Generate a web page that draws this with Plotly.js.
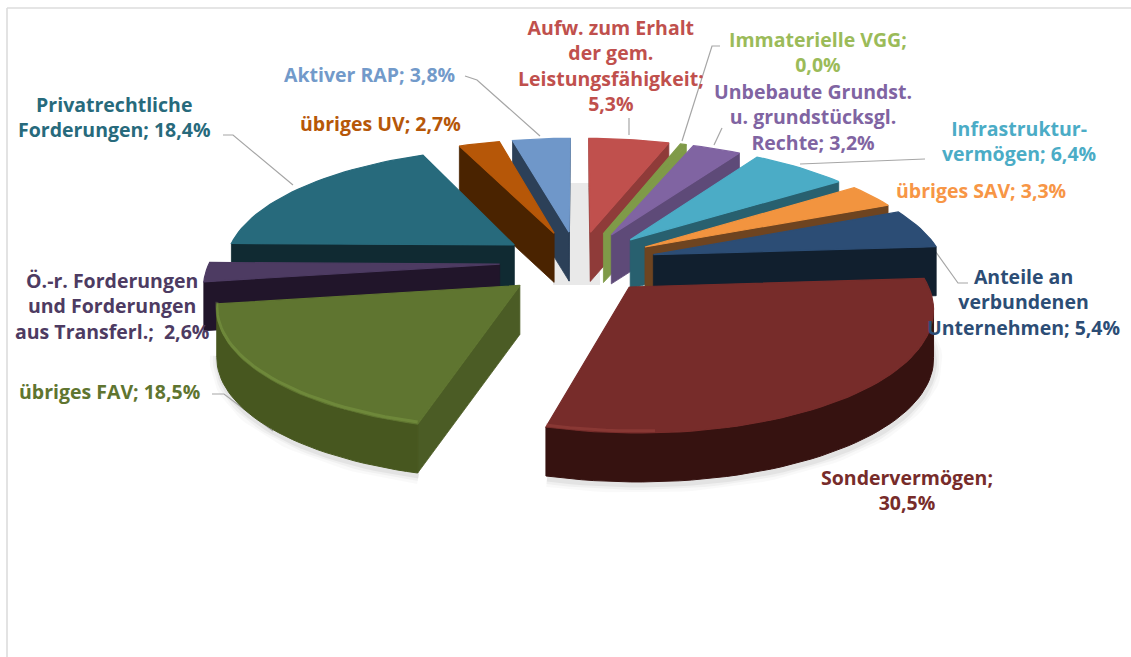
<!DOCTYPE html>
<html lang="de">
<head>
<meta charset="utf-8">
<title>Bilanz – Aktiva</title>
<script src="https://cdn.plot.ly/plotly-3.0.1.min.js"></script>
<style>html,body{margin:0;padding:0;background:#fff}#chart{width:1131px;height:657px}</style>
</head>
<body>
<div id="chart"></div>
<script>
// ---------- data (clockwise from 12 o'clock) ----------
const categories = [
  "Aufw. zum Erhalt<br>der gem.<br>Leistungsfähigkeit",
  "Immaterielle VGG",
  "Unbebaute Grundst.<br>u. grundstücksgl.<br>Rechte",
  "Infrastruktur-<br>vermögen",
  "übriges SAV",
  "Anteile an<br>verbundenen<br>Unternehmen",
  "Sondervermögen",
  "übriges FAV",
  "Ö.-r. Forderungen<br>und Forderungen<br>aus Transferl.",
  "Privatrechtliche<br>Forderungen",
  "übriges UV",
  "Aktiver RAP"
];
const values = [5.3, 0.0, 3.2, 6.4, 3.3, 5.4, 30.5, 18.5, 2.6, 18.4, 2.7, 3.8];
const separators = [";<br>", ";<br>", "; ", "; ", "; ", "; ", ";<br>", "; ", ";&nbsp; ", "; ", "; ", "; "];

// ---------- styles ----------
const topColors  = ["#C0504D","#7F9A48","#8064A2","#4BACC6","#F2943F","#2C4D75","#772C2A","#5F7530","#4D3B62","#276A7C","#B65708","#6F97C9"];
const textColors = ["#C0504D","#9BBB59","#8064A2","#4BACC6","#F79646","#2C4D75","#772C2A","#5F7530","#4D3B62","#276A7C","#B65708","#729ACA"];
const sideColors = ["#8F3B39","#7F9A48","#5E4A78","#28606F","#6E4420","#111F2E","#3A1413","#4B5C25","#21152A","#102A32","#4A2300","#2C4058"];
const arcColors  = ["#8F3B39","#7F9A48","#5E4A78","#28606F","#6E4420","#111F2E","#361210","#47571F","#21152A","#102A32","#4A2300","#2C4058"];
const labelPos = [[611,65],[818,52],[813,117],[1019,141],[981,190],[1023,302],[907,490],[109,391],[112,306],[114,117],[380,123],[369,74]];
const leaders = [
  [[465,76],[477,80],[540,136]],
  [[223,135],[233,135],[293,185]],
  [[629,118],[629,135]],
  [[720,46],[712,46],[682,141]],
  [[722,128],[714,145]],
  [[800,164],[925,159]],
  [[918,227],[958,283],[968,283]],
  [[212,394],[224,394],[273,431]]
];
// draw order, far to near
const drawOrder = [11,10,0,1,2,3,4,9,5,8,7,6];
// fine placement of single slices, in pixels
const nudge = {7:[2,2]};

// ---------- projection of the exploded, tilted pie ----------
const cx=578, cy=262, scaleX=290, scaleY=116, persp=0.149, explode=0.27, thickness=49, minSliver=0.4;
function project(X,Y,d){ const w=1+persp*Y; return [cx+scaleX*X/w+d[0], cy-scaleY*Y/w+d[1]]; }

const drawn = values.map(v=>Math.max(v,minSliver));
const total = drawn.reduce((a,b)=>a+b,0);
let acc=0;
const slices = drawn.map((v,idx)=>{
  const a0=acc/total*2*Math.PI; acc+=v; const a1=acc/total*2*Math.PI;
  const mid=(a0+a1)/2, ox=explode*Math.sin(mid), oy=explode*Math.cos(mid), d=nudge[idx]||[0,0];
  const n=Math.max(3,Math.ceil((a1-a0)/0.035));
  const arc=[];
  for(let i=0;i<=n;i++){const t=a0+(a1-a0)*i/n; arc.push(project(ox+Math.sin(t),oy+Math.cos(t),d));}
  return {apex:project(ox,oy,d),arc};
});

const traces=[];
function poly(pts,fill,line,lw){
  const x=[],y=[]; pts.forEach(p=>{ if(p){x.push(p[0]);y.push(p[1]);} else {x.push(null);y.push(null);} });
  traces.push({type:"scatter",mode:"lines",x,y,fill:"toself",fillcolor:fill,
    line:{color:line||fill,width:lw===undefined?0.8:lw},hoverinfo:"skip",showlegend:false});
}
const down=p=>[p[0],p[1]+thickness];
function quads(edges){ const out=[]; edges.forEach(([p,q])=>{ out.push(p,q,down(q),down(p),p,null); }); return out; }
function line(pts,color,w){
  traces.push({type:"scatter",mode:"lines",x:pts.map(p=>p[0]),y:pts.map(p=>p[1]),
    line:{color,width:w,shape:"linear"},hoverinfo:"skip",showlegend:false});
}

// soft ground shadow beneath the two large front slices
[6,7].forEach(i=>{
  const base=slices[i].arc.map(p=>[p[0]+1,p[1]+thickness+3]);
  [[16,"rgba(0,0,0,0.025)"],[10,"rgba(0,0,0,0.035)"],[5,"rgba(0,0,0,0.05)"]].forEach(s=>line(base,s[1],s[0]));
});

leaders.forEach(l=>line(l,"#a6a6a6",1.2));

drawOrder.forEach(i=>{
  const s=slices[i], a=s.arc, last=a[a.length-1];
  const radial=[], outerRun=[];
  if(a[0][0]<s.apex[0]) radial.push([s.apex,a[0]]);
  if(s.apex[0]<last[0]) radial.push([last,s.apex]);
  for(let k=0;k<a.length-1;k++) if(a[k+1][0]<a[k][0]){ if(!outerRun.length) outerRun.push(a[k]); outerRun.push(a[k+1]); }
  if(radial.length) poly(quads(radial),sideColors[i]);
  if(outerRun.length) poly([...outerRun,...outerRun.slice().reverse().map(down),outerRun[0]],arcColors[i],arcColors[i],1);
  poly([s.apex,...a,s.apex],topColors[i],topColors[i],1.2);
});
// bevel highlights on the front rims
line(slices[6].arc.slice(-10).map(p=>[p[0],p[1]-2]),"rgba(190,90,85,0.25)",3);
line(slices[7].arc.slice(0,38).map(p=>[p[0],p[1]-2]),"rgba(150,185,85,0.28)",3);

const annotations=categories.map((c,i)=>({
  x:labelPos[i][0],y:labelPos[i][1],xref:"x",yref:"y",showarrow:false,xanchor:"center",yanchor:"middle",align:"center",
  text:"<b>"+c+separators[i]+values[i].toFixed(1).replace(".",",")+"%</b>",
  font:{family:"'Open Sans', sans-serif",size:19.5,color:textColors[i]}
}));

const layout={
  width:1131,height:657,margin:{l:0,r:0,t:0,b:0},paper_bgcolor:"#fff",plot_bgcolor:"#fff",showlegend:false,
  xaxis:{range:[0,1131],visible:false,fixedrange:true},
  yaxis:{range:[657,0],visible:false,fixedrange:true},
  annotations,
  shapes:[
    {type:"rect",xref:"x",yref:"y",x0:553,x1:600,y0:183,y1:285,fillcolor:"#e9e9e9",line:{width:0},layer:"below"},
    {type:"line",xref:"x",yref:"y",x0:7,x1:7,y0:8,y1:657,line:{color:"#dcdcdc",width:1.6},layer:"below"},
    {type:"line",xref:"x",yref:"y",x0:7,x1:1131,y0:8,y1:8,line:{color:"#dcdcdc",width:1.6},layer:"below"}
  ]
};
Plotly.newPlot("chart",traces,layout,{displayModeBar:false,staticPlot:true});
</script>
</body>
</html>
